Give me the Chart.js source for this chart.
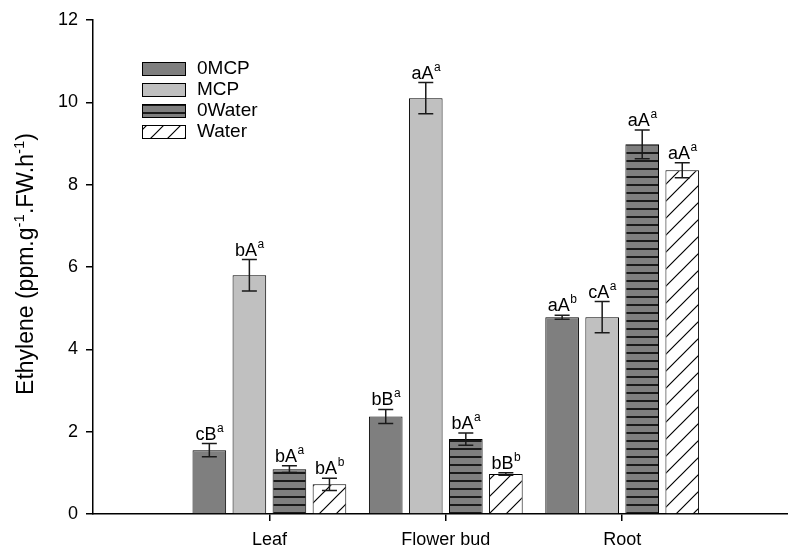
<!DOCTYPE html>
<html>
<head>
<meta charset="utf-8">
<script src="https://cdn.jsdelivr.net/npm/chart.js@4"></script>
<style>
html, body { margin: 0; padding: 0; background: #fff; }
</style>
</head>
<body>
<canvas id="chart" width="788" height="550"></canvas>
<script>
// Data
const categories = ['Leaf', 'Flower bud', 'Root'];
const seriesNames = ['0MCP', 'MCP', '0Water', 'Water'];

const mcp0 = [1.55, 2.37, 4.78];
const mcp = [5.8, 10.1, 4.78];
const water0 = [1.09, 1.82, 8.98];
const water = [0.72, 0.97, 8.35];

const mcp0Err = [0.16, 0.17, 0.05];
const mcpErr = [0.38, 0.38, 0.38];
const water0Err = [0.08, 0.15, 0.35];
const waterErr = [0.15, 0.03, 0.18];

// significance letters: [main, superscript]
const mcp0Letters = [['cB', 'a'], ['bB', 'a'], ['aA', 'b']];
const mcpLetters = [['bA', 'a'], ['aA', 'a'], ['cA', 'a']];
const water0Letters = [['bA', 'a'], ['bA', 'a'], ['aA', 'a']];
const waterLetters = [['bA', 'b'], ['bB', 'b'], ['aA', 'a']];

const yTicks = [0, 2, 4, 6, 8, 10, 12];
const yTitle = ['Ethylene (ppm.g', '-1', '.FW.h', '-1', ')'];

const FONT = 'Arial, "Liberation Sans", sans-serif';

// Fill patterns
function makeStripePattern() {
    const c = document.createElement('canvas');
    c.width = 8; c.height = 8;
    const g = c.getContext('2d');
    g.fillStyle = '#7f7f7f';
    g.fillRect(0, 0, 8, 8);
    g.fillStyle = '#1a1a1a';
    g.fillRect(0, 0, 8, 2);
    return g.createPattern(c, 'repeat');
}

function makeHatchPattern() {
    const s = 17;
    const c = document.createElement('canvas');
    c.width = s; c.height = s;
    const g = c.getContext('2d');
    g.fillStyle = '#fff';
    g.fillRect(0, 0, s, s);
    g.strokeStyle = '#000';
    g.lineWidth = 1.2;
    g.beginPath();
    g.moveTo(-2, s + 2); g.lineTo(s + 2, -2);
    g.moveTo(-2, 2); g.lineTo(2, -2);
    g.moveTo(s - 2, s + 2); g.lineTo(s + 2, s - 2);
    g.stroke();
    return g.createPattern(c, 'repeat');
}

const fills = ['#7f7f7f', '#c0c0c0', makeStripePattern(), makeHatchPattern()];
const values = [mcp0, mcp, water0, water];
const errors = [mcp0Err, mcpErr, water0Err, waterErr];
const letters = [mcp0Letters, mcpLetters, water0Letters, waterLetters];

const datasets = seriesNames.map((name, s) => ({
    label: name,
    data: values[s].map((v, i) => ({ x: i + 1, y: v })),
    backgroundColor: fills[s],
    borderColor: '#000',
    borderWidth: 1,
    categoryPercentage: 0.908,
    barPercentage: 0.84
}));

// Error bars and letters above each bar
const errorBarPlugin = {
    id: 'errorBars',
    afterDatasetsDraw(chart) {
        const ctx = chart.ctx;
        const yScale = chart.scales.y;
        ctx.save();
        chart.data.datasets.forEach((ds, s) => {
            const meta = chart.getDatasetMeta(s);
            meta.data.forEach((bar, i) => {
                const v = values[s][i];
                const e = errors[s][i];
                const top = yScale.getPixelForValue(v + e);
                const bot = yScale.getPixelForValue(v - e);
                const x = bar.x;
                ctx.strokeStyle = '#1a1a1a';
                ctx.lineWidth = 1.5;
                ctx.beginPath();
                ctx.moveTo(x, top); ctx.lineTo(x, bot);
                ctx.moveTo(x - 7.5, top); ctx.lineTo(x + 7.5, top);
                ctx.moveTo(x - 7.5, bot); ctx.lineTo(x + 7.5, bot);
                ctx.stroke();

                const [main, sup] = letters[s][i];
                ctx.fillStyle = '#000';
                ctx.textBaseline = 'alphabetic';
                ctx.textAlign = 'left';
                ctx.font = '18px ' + FONT;
                const wMain = ctx.measureText(main).width;
                ctx.font = '12px ' + FONT;
                const wSup = ctx.measureText(sup).width;
                const x0 = x - (wMain + wSup) / 2;
                const base = top - 4;
                ctx.font = '18px ' + FONT;
                ctx.fillText(main, x0, base);
                ctx.font = '12px ' + FONT;
                ctx.fillText(sup, x0 + wMain + 0.5, base - 8);
            });
        });
        ctx.restore();
    }
};

// Legend inside the plot, top left
const boxLegendPlugin = {
    id: 'boxLegend',
    afterDraw(chart) {
        const ctx = chart.ctx;
        ctx.save();
        seriesNames.forEach((name, s) => {
            const y = 62 + s * 21;
            ctx.fillStyle = fills[s];
            ctx.fillRect(142, y, 43, 13);
            ctx.strokeStyle = '#000';
            ctx.lineWidth = 1;
            ctx.strokeRect(142.5, y + 0.5, 43, 13);
            ctx.fillStyle = '#000';
            ctx.font = '19px ' + FONT;
            ctx.textBaseline = 'middle';
            ctx.textAlign = 'left';
            ctx.fillText(name, 197, y + 7);
        });
        ctx.restore();
    }
};

// Rotated y title with superscripts
const yTitlePlugin = {
    id: 'yTitle',
    afterDraw(chart) {
        const ctx = chart.ctx;
        ctx.save();
        ctx.translate(33, 264);
        ctx.rotate(-Math.PI / 2);
        ctx.fillStyle = '#000';
        ctx.textBaseline = 'alphabetic';
        ctx.textAlign = 'left';
        const sizes = yTitle.map((t, k) => (k % 2 ? 15 : 23));
        let total = 0;
        yTitle.forEach((t, k) => {
            ctx.font = sizes[k] + 'px ' + FONT;
            total += ctx.measureText(t).width;
        });
        let x = -total / 2;
        yTitle.forEach((t, k) => {
            ctx.font = sizes[k] + 'px ' + FONT;
            ctx.fillText(t, x, k % 2 ? -9 : 0);
            x += ctx.measureText(t).width;
        });
        ctx.restore();
    }
};

new Chart(document.getElementById('chart'), {
    type: 'bar',
    data: { datasets: datasets },
    options: {
        responsive: false,
        animation: false,
        layout: { padding: { top: 20, right: 0, left: 0, bottom: 0 } },
        plugins: {
            legend: { display: false },
            tooltip: { enabled: false }
        },
        scales: {
            x: {
                type: 'linear',
                offset: false,
                min: 0,
                max: 3.94,
                afterBuildTicks: scale => {
                    scale.ticks = categories.map((c, i) => ({ value: i + 1 }));
                },
                afterFit: scale => { scale.height = 36; },
                ticks: {
                    callback: v => categories[v - 1],
                    color: '#000',
                    font: { family: FONT, size: 18 },
                    padding: 8,
                    maxRotation: 0,
                    autoSkip: false
                },
                grid: { offset: false, drawOnChartArea: false, drawTicks: true, tickLength: 7, color: '#000', lineWidth: 1.5 },
                border: { display: true, color: '#000', width: 1.5 }
            },
            y: {
                min: 0,
                max: 12,
                afterBuildTicks: scale => {
                    scale.ticks = yTicks.map(v => ({ value: v }));
                },
                afterFit: scale => { scale.width = 93; },
                ticks: {
                    color: '#000',
                    font: { family: FONT, size: 18 },
                    padding: 8
                },
                grid: { drawOnChartArea: false, drawTicks: true, tickLength: 7, color: '#000', lineWidth: 1.5 },
                border: { display: true, color: '#000', width: 1.5 }
            }
        }
    },
    plugins: [errorBarPlugin, boxLegendPlugin, yTitlePlugin]
});
</script>
</body>
</html>
